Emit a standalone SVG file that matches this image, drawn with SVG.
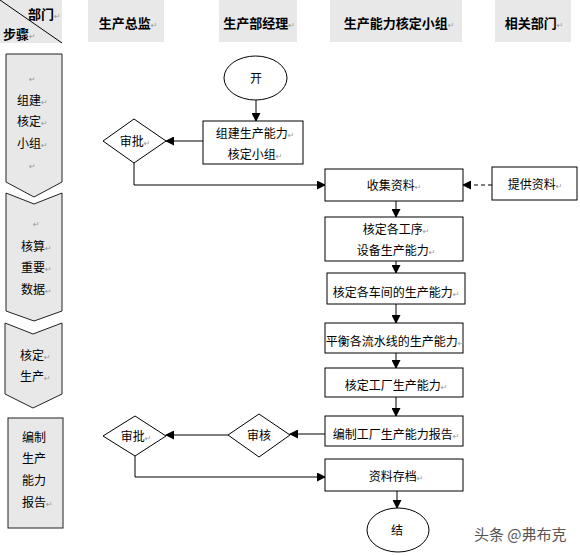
<svg xmlns="http://www.w3.org/2000/svg" width="580" height="556" viewBox="0 0 580 556">
<style>
  .hdr { fill: #e8e8e8; stroke: none; }
  .ht { font-family: "Noto Sans CJK SC", "Liberation Sans", sans-serif; font-size: 13px; font-weight: bold; fill: #000; }
  .t { font-family: "Noto Sans CJK SC", "Liberation Sans", sans-serif; font-size: 12px; fill: #000; }
  .step { fill: #e8e8e8; stroke: #222; stroke-width: 1; }
  .box { fill: #fff; stroke: #000; stroke-width: 1; }
  .ln { fill: none; stroke: #000; stroke-width: 1; }
  .dash { fill: none; stroke: #000; stroke-width: 1; stroke-dasharray: 4 3; }
  .r { font-family: "DejaVu Sans", sans-serif; font-size: 8px; fill: #999; font-weight: normal; }
  .wm { font-family: "Noto Sans CJK SC", sans-serif; font-size: 15px; fill: #555; }
</style>
<defs>
  <marker id="arr" markerUnits="userSpaceOnUse" markerWidth="9" markerHeight="9" refX="8" refY="4.5" orient="auto">
    <path d="M0,0 L9,4.5 L0,9 z" fill="#000"/>
  </marker>
</defs>
<rect width="580" height="556" fill="#fff"/>

<g id="headers">
  <rect class="hdr" x="0" y="0" width="62" height="43"/>
  <line x1="0" y1="0" x2="62" y2="43" stroke="#000" stroke-width="1"/>
  <text class="ht" x="28" y="19">部门<tspan class="r">↵</tspan></text>
  <text class="ht" x="3" y="39">步骤<tspan class="r">↵</tspan></text>
  <rect class="hdr" x="88" y="0" width="76" height="42"/>
  <text class="ht" x="128" y="28" text-anchor="middle">生产总监<tspan class="r">↵</tspan></text>
  <rect class="hdr" x="219" y="0" width="78" height="42"/>
  <text class="ht" x="259" y="28" text-anchor="middle">生产部经理<tspan class="r">↵</tspan></text>
  <rect class="hdr" x="330" y="0" width="132" height="42"/>
  <text class="ht" x="399" y="28" text-anchor="middle">生产能力核定小组<tspan class="r">↵</tspan></text>
  <rect class="hdr" x="495" y="0" width="76" height="42"/>
  <text class="ht" x="534" y="28" text-anchor="middle">相关部门<tspan class="r">↵</tspan></text>
</g>

<g id="step1">
  <path class="step" d="M6,54 L62,54 L62,182 L34,197 L6,182 Z"/>
  <text class="t" x="29" y="82"><tspan class="r">↵</tspan></text>
  <text class="t" x="17" y="105">组建<tspan class="r">↵</tspan></text>
  <text class="t" x="17" y="126">核定<tspan class="r">↵</tspan></text>
  <text class="t" x="17" y="148">小组<tspan class="r">↵</tspan></text>
  <text class="t" x="29" y="169"><tspan class="r">↵</tspan></text>
</g>
<g id="step2">
  <path class="step" d="M6,193 L34,204 L62,193 L62,311 L34,321 L6,311 Z"/>
  <text class="t" x="33" y="227"><tspan class="r">↵</tspan></text>
  <text class="t" x="21" y="251">核算<tspan class="r">↵</tspan></text>
  <text class="t" x="21" y="272">重要<tspan class="r">↵</tspan></text>
  <text class="t" x="21" y="294">数据<tspan class="r">↵</tspan></text>
</g>
<g id="step3">
  <path class="step" d="M5,323 L33,334 L62,323 L62,394 L33,408 L5,394 Z"/>
  <text class="t" x="20" y="360">核定<tspan class="r">↵</tspan></text>
  <text class="t" x="20" y="381">生产<tspan class="r">↵</tspan></text>
</g>
<g id="step4">
  <rect class="step" x="8" y="418" width="55" height="110"/>
  <text class="t" x="22" y="442">编制</text>
  <text class="t" x="22" y="463">生产</text>
  <text class="t" x="22" y="485">能力</text>
  <text class="t" x="22" y="507">报告<tspan class="r">↵</tspan></text>
</g>

<g id="connectors">
  <line class="ln" x1="256" y1="100" x2="256" y2="121" marker-end="url(#arr)"/>
  <line class="ln" x1="203" y1="141" x2="166" y2="141" marker-end="url(#arr)"/>
  <polyline class="ln" points="134,163 134,185 325,185" marker-end="url(#arr)"/>
  <line class="dash" x1="492" y1="185" x2="463" y2="185" marker-end="url(#arr)"/>
  <line class="ln" x1="396" y1="201" x2="396" y2="217" marker-end="url(#arr)"/>
  <line class="ln" x1="396" y1="261" x2="396" y2="273" marker-end="url(#arr)"/>
  <line class="ln" x1="396" y1="304" x2="396" y2="323" marker-end="url(#arr)"/>
  <line class="ln" x1="396" y1="353" x2="396" y2="368" marker-end="url(#arr)"/>
  <line class="ln" x1="396" y1="397" x2="396" y2="416" marker-end="url(#arr)"/>
  <line class="ln" x1="325" y1="434" x2="290" y2="434" marker-end="url(#arr)"/>
  <line class="ln" x1="228" y1="435" x2="166" y2="435" marker-end="url(#arr)"/>
  <polyline class="ln" points="135,456 135,477 325,477" marker-end="url(#arr)"/>
  <line class="ln" x1="397" y1="491" x2="397" y2="508" marker-end="url(#arr)"/>
</g>

<g id="start">
  <ellipse class="box" cx="255.5" cy="78" rx="31.5" ry="22"/>
  <text class="t" x="256" y="83" text-anchor="middle">开</text>
</g>
<g id="build-team">
  <rect class="box" x="203" y="121" width="100" height="43"/>
  <text class="t" x="255" y="138" text-anchor="middle">组建生产能力<tspan class="r">↵</tspan></text>
  <text class="t" x="255" y="159" text-anchor="middle">核定小组<tspan class="r">↵</tspan></text>
</g>
<g id="approve1">
  <path class="box" d="M103,141 L134,119 L166,141 L134,163 Z"/>
  <text class="t" x="135" y="146" text-anchor="middle">审批<tspan class="r">↵</tspan></text>
</g>
<g id="collect">
  <rect class="box" x="325" y="169" width="138" height="32"/>
  <text class="t" x="394" y="190" text-anchor="middle">收集资料<tspan class="r">↵</tspan></text>
</g>
<g id="provide">
  <rect class="box" x="492" y="167" width="85" height="33"/>
  <text class="t" x="535" y="189" text-anchor="middle">提供资料<tspan class="r">↵</tspan></text>
</g>
<g id="process-capacity">
  <rect class="box" x="325" y="217" width="138" height="44"/>
  <text class="t" x="396" y="234" text-anchor="middle">核定各工序<tspan class="r">↵</tspan></text>
  <text class="t" x="396" y="255" text-anchor="middle">设备生产能力<tspan class="r">↵</tspan></text>
</g>
<g id="workshop-capacity">
  <rect class="box" x="327" y="273" width="138" height="31"/>
  <text class="t" x="396" y="297" text-anchor="middle">核定各车间的生产能力<tspan class="r">↵</tspan></text>
</g>
<g id="line-balance">
  <rect class="box" x="325" y="323" width="138" height="30"/>
  <text class="t" x="395" y="346" text-anchor="middle">平衡各流水线的生产能力<tspan class="r">↵</tspan></text>
</g>
<g id="factory-capacity">
  <rect class="box" x="325" y="368" width="138" height="29"/>
  <text class="t" x="396" y="390" text-anchor="middle">核定工厂生产能力<tspan class="r">↵</tspan></text>
</g>
<g id="report">
  <rect class="box" x="325" y="416" width="138" height="30"/>
  <text class="t" x="396" y="439" text-anchor="middle">编制工厂生产能力报告<tspan class="r">↵</tspan></text>
</g>
<g id="review">
  <path class="box" d="M228,435 L259,414 L290,435 L259,457 Z"/>
  <text class="t" x="259" y="440" text-anchor="middle">审核</text>
</g>
<g id="approve2">
  <path class="box" d="M103,436 L135,416 L166,436 L135,456 Z"/>
  <text class="t" x="136" y="441" text-anchor="middle">审批<tspan class="r">↵</tspan></text>
</g>
<g id="archive">
  <rect class="box" x="325" y="459" width="138" height="32"/>
  <text class="t" x="396" y="481" text-anchor="middle">资料存档<tspan class="r">↵</tspan></text>
</g>
<g id="end">
  <ellipse class="box" cx="398" cy="530" rx="31" ry="22"/>
  <text class="t" x="397" y="535" text-anchor="middle">结</text>
</g>
<text class="wm" x="474" y="540">头条 @弗布克</text>
</svg>
